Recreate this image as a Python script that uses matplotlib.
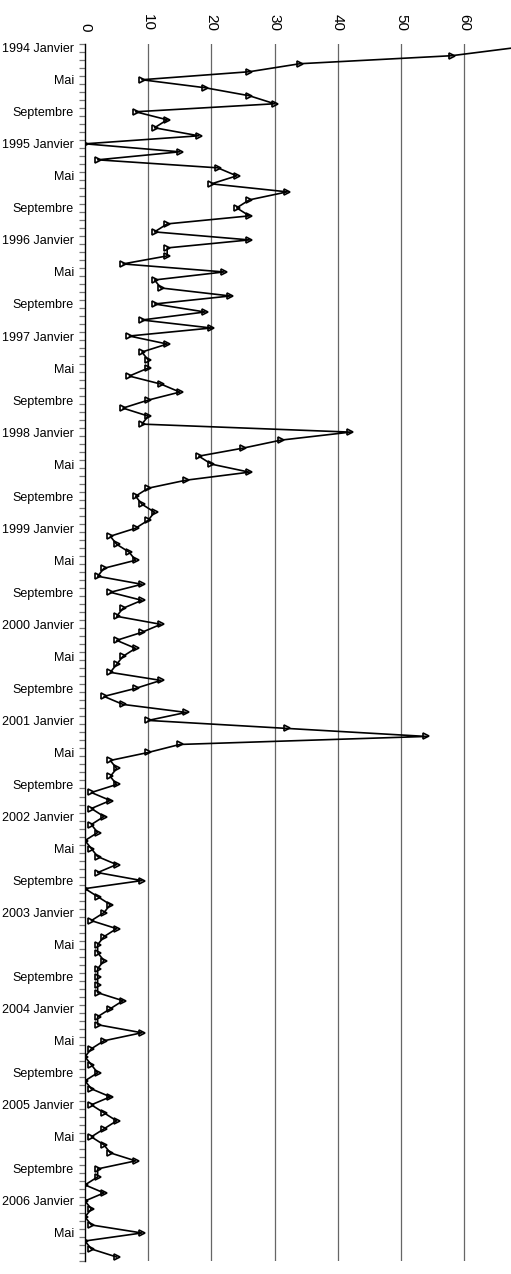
import matplotlib
matplotlib.use("Agg")
import matplotlib.pyplot as plt
import numpy as np

# Valeurs mensuelles, de janvier 1994 à août 2006
valeurs = [
    68, 58, 34, 26, 9, 19, 26, 30, 8, 13, 11, 18,      # 1994
    0, 15, 2, 21, 24, 20, 32, 26, 24, 26, 13, 11,      # 1995
    26, 13, 13, 6, 22, 11, 12, 23, 11, 19, 9, 20,      # 1996
    7, 13, 9, 10, 10, 7, 12, 15, 10, 6, 10, 9,         # 1997
    42, 31, 25, 18, 20, 26, 16, 10, 8, 9, 11, 10,      # 1998
    8, 4, 5, 7, 8, 3, 2, 9, 4, 9, 6, 5,                # 1999
    12, 9, 5, 8, 6, 5, 4, 12, 8, 3, 6, 16,             # 2000
    10, 32, 54, 15, 10, 4, 5, 4, 5, 1, 4, 1,           # 2001
    3, 1, 2, 0, 1, 2, 5, 2, 9, 0, 2, 4,                # 2002
    3, 1, 5, 3, 2, 2, 3, 2, 2, 2, 2, 6,                # 2003
    4, 2, 2, 9, 3, 1, 0, 1, 2, 0, 1, 4,                # 2004
    1, 3, 5, 3, 1, 3, 4, 8, 2, 2, 0, 3,                # 2005
    0, 1, 0, 1, 9, 0, 1, 5,                            # 2006
]
annees = list(range(1994, 2007))
mois_etiquettes = ["Janvier", "Mai", "Septembre"]
graduations_x = [0, 10, 20, 30, 40, 50, 60]

plt.rcParams['font.family'] = ['Liberation Sans', 'DejaVu Sans']

n = len(valeurs)
idx = np.arange(n)

# Étiquettes tous les 4 mois
pos_etiq = []
etiquettes = []
for k, a in enumerate(annees):
    for j, m in enumerate(mois_etiquettes):
        p = k * 12 + j * 4
        if p < n:
            pos_etiq.append(p)
            etiquettes.append(f"{a} {m}" if m == "Janvier" else m)

fig = plt.figure(figsize=(5.11, 12.74), dpi=100)
ax = fig.add_axes([85 / 511, 1 - 1261 / 1274, 1 - 85 / 511, (1261 - 43.7) / 1274])

ax.plot(valeurs, idx, color='black', lw=1.2, marker='>', ms=4.2,
        mfc='none', mec='black', mew=1.2, zorder=3)

ax.set_xlim(0, 67.4)
ax.set_ylim(n - 0.5, -0.5)

# Axe des valeurs en haut, étiquettes tournées
ax.xaxis.tick_top()
ax.set_xticks(graduations_x)
ax.set_xticklabels([str(v) for v in graduations_x], rotation=-90, fontsize=11)
ax.tick_params(axis='x', length=0, pad=9)
for v in graduations_x[1:]:
    ax.axvline(v, color='#666666', lw=0.9, zorder=1)

# Axe des catégories à gauche
ax.set_yticks(pos_etiq)
ax.set_yticklabels(etiquettes, fontsize=9)
ax.set_yticks(np.arange(n + 1) - 0.5, minor=True)
ax.tick_params(axis='y', which='major', length=0, pad=8)
ax.tick_params(axis='y', which='minor', length=4.5, width=0.9, color='#777777')

for s in ['top', 'right', 'bottom']:
    ax.spines[s].set_visible(False)
ax.spines['left'].set_linewidth(1.0)

fig.savefig('out.png', dpi=100)
